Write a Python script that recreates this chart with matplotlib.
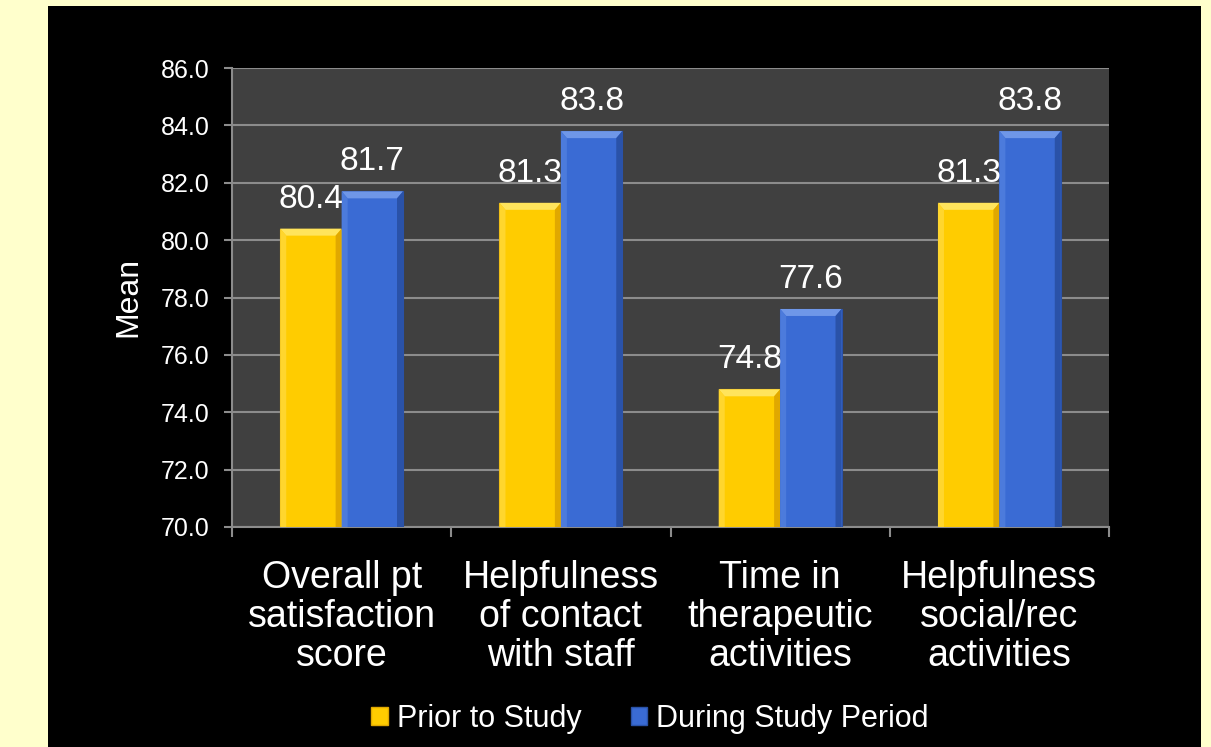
import matplotlib
matplotlib.use('Agg')
import matplotlib.pyplot as plt
from matplotlib.patches import Polygon, Rectangle
import numpy as np

plt.rcParams['font.family'] = ['Liberation Sans', 'DejaVu Sans']

categories = ['Overall pt\nsatisfaction\nscore',
              'Helpfulness\nof contact\nwith staff',
              'Time in\ntherapeutic\nactivities',
              'Helpfulness\nsocial/rec\nactivities']
prior = [80.4, 81.3, 74.8, 81.3]
during = [81.7, 83.8, 77.6, 83.8]
series_names = ['Prior to Study', 'During Study Period']
yticks = np.arange(70, 86.1, 2)

# face, top bevel, left bevel, right bevel
gold = ('#FFCC00', '#FFE45C', '#FFD62E', '#E0A800')
blue = ('#3A6BD4', '#6F97E8', '#4C7BDC', '#2A52A8')

W, H = 1211, 747
fig = plt.figure(figsize=(W / 100, H / 100), dpi=100, facecolor='#FFFFCC')
# black slide panel
fig.patches.append(Rectangle((48 / W, 0), (1201 - 48) / W, (747 - 6) / H,
                             transform=fig.transFigure, facecolor='black',
                             edgecolor='none', zorder=-10))

ax = fig.add_axes([232 / W, (747 - 527) / H, (1109 - 232) / W, (527 - 68) / H])
ax.set_zorder(1)
ax.set_facecolor('#404040')
ax.set_xlim(-0.5, 3.5)
ax.set_ylim(70, 86)

x = np.arange(len(categories))
bw = 0.28

# bevel size in data units (about 6 px)
px_x = 877 / 4.0
px_y = 459 / 16.0
bx, by = 6 / px_x, 7 / px_y


def bevel_bar(x0, val, cols):
    left, right = x0 - bw / 2, x0 + bw / 2
    base = 70
    ax.add_patch(Rectangle((left, base), bw, val - base, facecolor=cols[0],
                           edgecolor=cols[3], linewidth=0.8, zorder=3))
    # top facet
    ax.add_patch(Polygon([(left, val), (right, val), (right - bx, val - by),
                          (left + bx, val - by)], closed=True,
                         facecolor=cols[1], edgecolor='none', zorder=4))
    # left facet
    ax.add_patch(Polygon([(left, val), (left + bx, val - by), (left + bx, base),
                          (left, base)], closed=True,
                         facecolor=cols[2], edgecolor='none', zorder=4))
    # right facet
    ax.add_patch(Polygon([(right, val), (right - bx, val - by), (right - bx, base),
                          (right, base)], closed=True,
                         facecolor=cols[3], edgecolor='none', zorder=4))


for i in range(len(categories)):
    bevel_bar(x[i] - bw / 2, prior[i], gold)
    bevel_bar(x[i] + bw / 2, during[i], blue)
    ax.annotate('%.1f' % prior[i], (x[i] - bw / 2, prior[i]), xytext=(0, 10),
                textcoords='offset points', ha='center', va='bottom',
                color='white', fontsize=24, zorder=6)
    ax.annotate('%.1f' % during[i], (x[i] + bw / 2, during[i]), xytext=(0, 10),
                textcoords='offset points', ha='center', va='bottom',
                color='white', fontsize=24, zorder=6)

# gridlines and axes
ax.set_yticks(yticks)
ax.set_yticklabels(['%.1f' % v for v in yticks])
ax.yaxis.grid(True, color='#8C8C8C', linewidth=1.5, zorder=1)
ax.set_axisbelow(True)
ax.tick_params(axis='y', colors='#8C8C8C', labelcolor='white', labelsize=18,
               length=6, width=1.5, pad=10)

ax.set_xticks(np.arange(-0.5, 3.6, 1.0))
ax.set_xticklabels([])
ax.set_xticks(x, minor=True)
ax.set_xticklabels(categories, minor=True)
ax.tick_params(axis='x', which='major', colors='#8C8C8C', length=7, width=1.5)
ax.tick_params(axis='x', which='minor', length=0, pad=24, labelcolor='white',
               labelsize=27)
for lbl in ax.get_xticklabels(minor=True):
    lbl.set_linespacing(1.1)

for s in ['top', 'right']:
    ax.spines[s].set_visible(False)
for s in ['left', 'bottom']:
    ax.spines[s].set_color('#8C8C8C')
    ax.spines[s].set_linewidth(1.5)

fig.text(128 / W, 1 - 297 / H, 'Mean', rotation=90, ha='center', va='center',
         color='white', fontsize=23)

handles = [Rectangle((0, 0), 1, 1, facecolor=gold[0], edgecolor=gold[3]),
           Rectangle((0, 0), 1, 1, facecolor=blue[0], edgecolor=blue[3])]
leg = fig.legend(handles, series_names, loc='center', ncol=2,
                 bbox_to_anchor=(650 / W, 1 - 719 / H), frameon=False,
                 fontsize=22, handlelength=0.55, handleheight=0.55,
                 handletextpad=0.3, columnspacing=1.6)
for t in leg.get_texts():
    t.set_color('white')

fig.savefig('out.png', dpi=100, facecolor=fig.get_facecolor())
